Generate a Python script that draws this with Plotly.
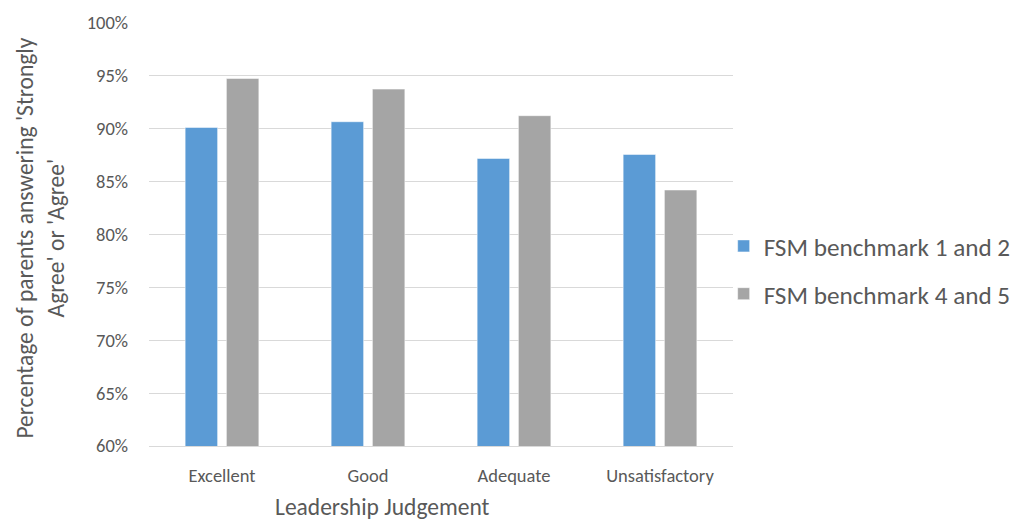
import plotly.graph_objects as go

categories = ["Excellent", "Good", "Adequate", "Unsatisfactory"]
fsm_1_2 = [0.9009, 0.9063, 0.8716, 0.8754]
fsm_4_5 = [0.9472, 0.9371, 0.9120, 0.8418]
series_names = ["FSM benchmark 1 and 2", "FSM benchmark 4 and 5"]
colors = ["#5B9BD5", "#A5A5A5"]

FONT = "Carlito, Calibri, Lato, sans-serif"
TXT = "#595959"

fig = go.Figure()
for i, (name, vals) in enumerate(zip(series_names, [fsm_1_2, fsm_4_5])):
    fig.add_trace(go.Bar(
        x=categories, y=vals, name=name,
        marker=dict(color=colors[i], line=dict(color="white", width=0.5)),
        legendgroup=f"g{i}",
    ))

fig.update_layout(
    width=1031, height=521,
    margin=dict(l=149, r=298, t=22, b=75),
    plot_bgcolor="white", paper_bgcolor="white",
    barmode="group", bargap=0.435, bargroupgap=0.213,
    font=dict(family=FONT, color=TXT, size=18),
    legend=dict(
        x=0.984, xanchor="left", y=0.415, yanchor="middle",
        font=dict(size=25.2, color=TXT, family=FONT),
        tracegroupgap=12, traceorder="grouped",
        bgcolor="rgba(0,0,0,0)", borderwidth=0,
    ),
    xaxis=dict(
        showgrid=False, showline=True, linecolor="#D9D9D9", linewidth=1,
        tickfont=dict(size=18.5, color=TXT), ticks="", ticklabelstandoff=13,
        automargin=False,
    ),
    yaxis=dict(
        range=[0.6, 1.0005], dtick=0.05, tickformat=".0%",
        showgrid=True, gridcolor="#D9D9D9", gridwidth=1,
        zeroline=False, showline=False, ticks="",
        tickfont=dict(size=18.5, color=TXT), ticklabelstandoff=20,
        automargin=False,
    ),
    annotations=[
        dict(text="Leadership Judgement", xref="paper", yref="paper",
             x=0.399, y=-0.145, xanchor="center", yanchor="middle",
             showarrow=False, font=dict(size=23.5, color=TXT, family=FONT)),
        dict(text="Percentage of parents answering 'Strongly<br>Agree' or 'Agree'",
             xref="paper", yref="paper", x=-0.186, y=0.49, textangle=-90,
             xanchor="center", yanchor="middle", showarrow=False,
             font=dict(size=23.5, color=TXT, family=FONT)),
    ],
)

fig.write_html("out.html", config={"displayModeBar": False},
               post_script="document.body.style.margin='0';")
